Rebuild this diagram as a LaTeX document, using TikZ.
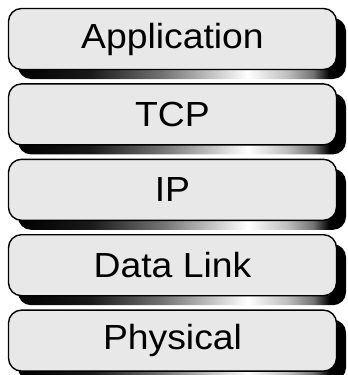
\documentclass[tikz,border=0pt]{standalone}
\usepackage{fontspec}
\newfontfamily\layerfont[FakeStretch=1.07]{Liberation Sans}
\usetikzlibrary{positioning,shadows}

% the path is fitted to the 25bp--75bp part of the shading
\pgfdeclarehorizontalshading{metal}{100bp}{color(0bp)=(black); color(25bp)=(black); color(36bp)=(black!90); color(47bp)=(black!55); color(60bp)=(white); color(66bp)=(black!25); color(70bp)=(black!55); color(72.5bp)=(black); color(100bp)=(black)}

\tikzset{
    >=latex,
    layer/.style={draw=black, line width=1.4bp, fill=black!9, rounded corners=13bp,
        minimum width=328bp, minimum height=61bp, inner sep=0pt,
        font=\layerfont\fontsize{35}{40}\selectfont,
        general shadow={shade, shading=metal, shadow xshift=9.5bp, shadow yshift=-9.5bp}},
}

\begin{document}
\begin{tikzpicture}[x=1bp, y=1bp, node distance=13bp]

    \useasboundingbox (0,0) rectangle (348,375);

    \node[layer] (app) at (172.5,336) {Application};
    \node[layer, below=of app] (tcp) {TCP};
    \node[layer, below=of tcp] (ip) {IP};
    \node[layer, below=of ip] (link) {Data Link};
    \node[layer, below=of link] (phys) {Physical};

\end{tikzpicture}
\end{document}
